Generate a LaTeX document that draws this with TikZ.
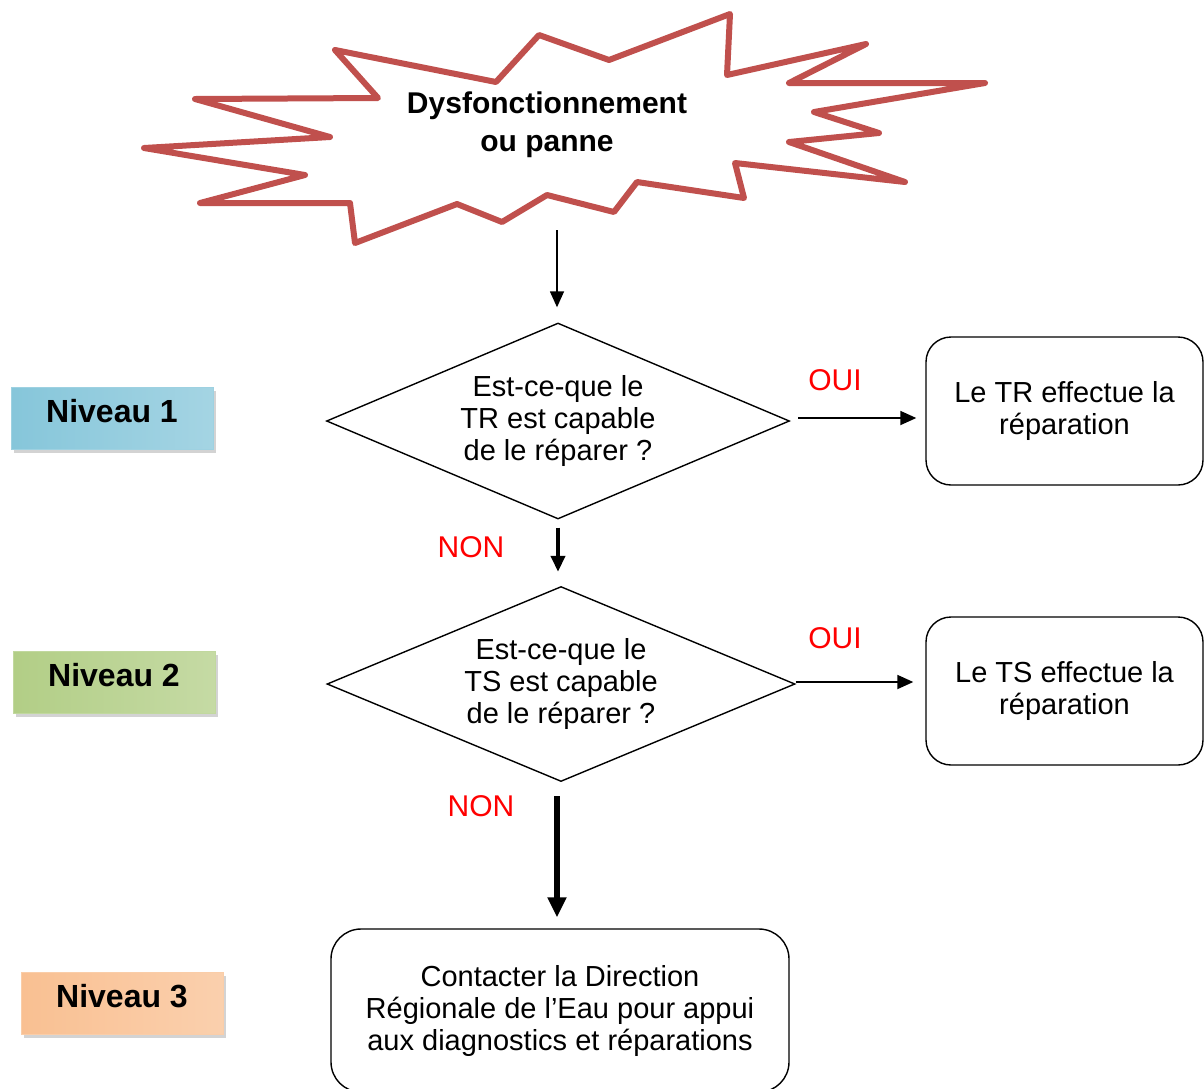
\documentclass[tikz,border=0pt]{standalone}
\usepackage{fontspec}
\setmainfont{Liberation Sans}
\usetikzlibrary{shapes.geometric,arrows.meta,shadows}
\definecolor{starred}{RGB}{192,80,77}
\definecolor{answerred}{RGB}{255,0,0}
\definecolor{nivblue}{RGB}{134,198,218}
\definecolor{nivgreen}{RGB}{178,206,134}
\definecolor{nivorange}{RGB}{249,192,146}

\begin{document}
\begin{tikzpicture}[x=1pt, y=-1pt,
  textstyle/.style={black, align=center, font=\fontsize{29}{32}\selectfont},
  choicestyle/.style={textstyle, draw, diamond, shape aspect=2.36, inner sep=0pt, line width=1.4pt},
  boxstyle/.style={textstyle, draw, rounded corners=25pt, line width=1.4pt, minimum width=277pt, minimum height=148pt},
  levelstyle/.style={font=\bfseries\fontsize{32}{36}\selectfont, text depth=14pt, minimum width=202pt, minimum height=62pt, draw=#1!80, left color=#1, middle color=#1!35, right color=#1!75, drop shadow={shadow xshift=3pt, shadow yshift=-4pt, opacity=0.35}},
  answerstyle/.style={answerred, font=\fontsize{30}{32}\selectfont},
  arrowstyle/.style={-{Triangle[length=16pt, width=14pt]}}]
  \useasboundingbox (0,0) rectangle (1204,1088);

  \draw [starred, line width=6pt, line join=round] (335,50) -- (378,98) -- (195,99) -- (330,137) -- (144,148) -- (305,175) -- (200,203) -- (350,203) -- (355,243) -- (457,204) -- (502,222) -- (547,195) -- (614,212) -- (637,182) -- (744,198) -- (735,163) -- (905,182) -- (789,142) -- (879,133) -- (814,112) -- (985,83) -- (789,83) -- (866,44) -- (727,75) -- (730,14) -- (609,60) -- (539,35) -- (496,82) -- cycle;
  \node [textstyle, font=\bfseries\fontsize{30}{38}\selectfont] (panne) at (547,125) {Dysfonctionnement\\ou panne};
  \coordinate (panneout) at (557,230);

  \node [levelstyle=nivblue] (niveau1) at (112,418) {Niveau 1};
  \node [levelstyle=nivgreen] (niveau2) at (114,682) {Niveau 2};
  \node [levelstyle=nivorange] (niveau3) at (122,1003) {Niveau 3};

  \node [choicestyle, minimum width=463pt, minimum height=196pt] (choix1) at (558,421) {Est-ce-que le\\TR est capable\\de le réparer ?};
  \node [choicestyle, minimum width=468pt, minimum height=195pt] (choix2) at (561,684) {Est-ce-que le\\TS est capable\\de le réparer ?};

  \node [boxstyle] (TRbox) at (1064.5,411) {Le TR effectue la\\réparation};
  \node [boxstyle] (TSbox) at (1064.5,691) {Le TS effectue la\\réparation};
  \node [boxstyle, rounded corners=30pt, minimum width=458pt, minimum height=163pt] (DRbox) at (560,1010.5) {Contacter la Direction\\Régionale de l’Eau pour appui\\aux diagnostics et réparations};

  \node [answerstyle] (oui1) at (835,380) {OUI};
  \node [answerstyle] (non1) at (471,547) {NON};
  \node [answerstyle] (oui2) at (835,638) {OUI};
  \node [answerstyle] (non2) at (481,806) {NON};

  \draw [arrowstyle, line width=1.5pt, shorten >=15pt] (panneout) -- (panneout |- choix1.north);
  \draw [arrowstyle, line width=1.8pt, shorten <=8pt, shorten >=9pt] ([yshift=3pt]choix1.east) -- ([yshift=3pt]choix1.east -| TRbox.west);
  \draw [arrowstyle, line width=4pt, shorten <=8pt, shorten >=14pt] (choix1.south) -- (choix1.south |- choix2.north);
  \draw [arrowstyle, line width=1.8pt, shorten >=12pt] ([yshift=2pt]choix2.east) -- ([yshift=2pt]choix2.east -| TSbox.west);
  \draw [-{Triangle[length=20pt, width=18pt]}, line width=6pt, shorten <=14pt, shorten >=11pt] ([xshift=-4pt]choix2.south) -- ([xshift=-4pt]choix2.south |- DRbox.north);
\end{tikzpicture}
\end{document}
